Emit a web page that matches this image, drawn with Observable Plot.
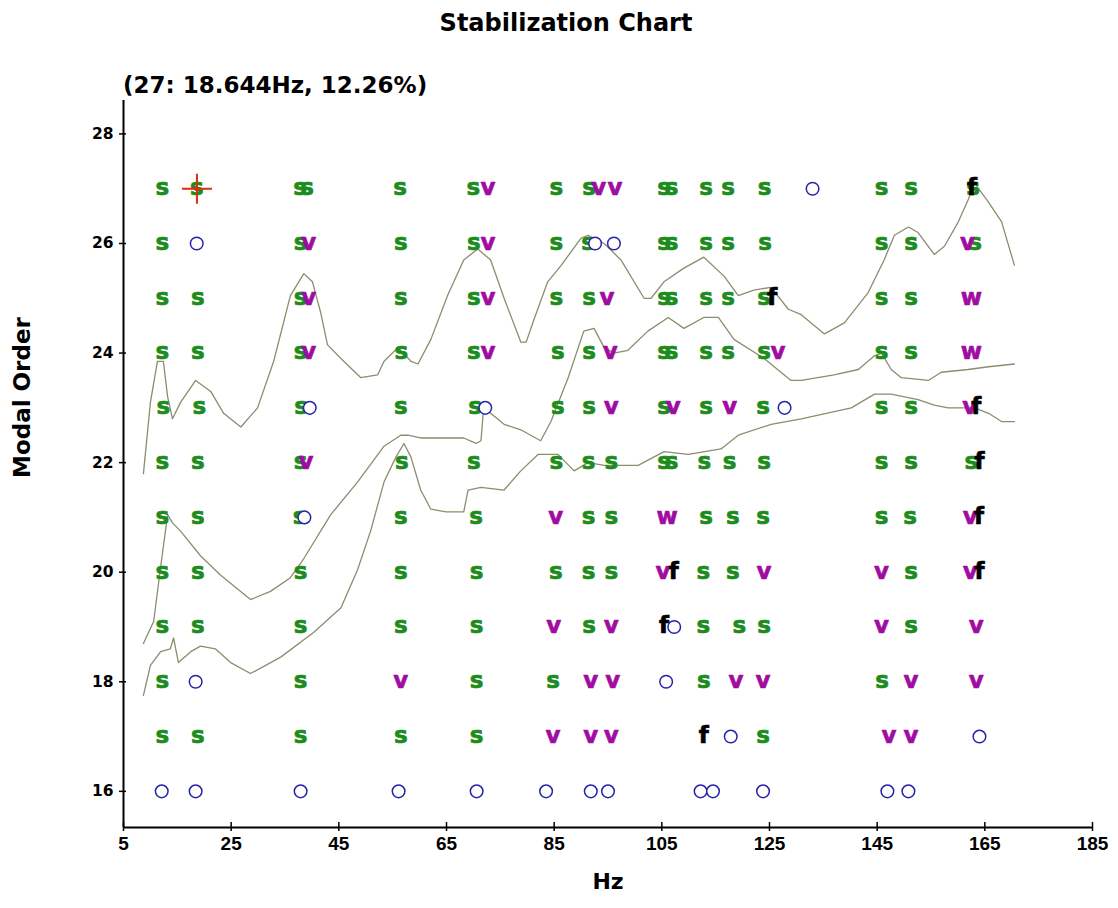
<!DOCTYPE html>
<html>
<head>
<meta charset="utf-8">
<script src="https://cdn.jsdelivr.net/npm/d3@7"></script>
<script src="https://cdn.jsdelivr.net/npm/@observablehq/plot@0.6"></script>
<style>
  html, body { margin: 0; padding: 0; background: #fff; }
  body { width: 1118px; height: 908px; overflow: hidden; font-family: "DejaVu Sans", sans-serif; }
  #header { position: relative; width: 1118px; height: 100px; }
  #title { position: absolute; left: 14px; width: 1104px; top: 8px; text-align: center;
           font-size: 24px; font-weight: bold; color: #000; line-height: 30px; }
  #subtitle { position: absolute; left: 123px; top: 70px; font-size: 23px; font-weight: bold;
              color: #000; line-height: 30px; white-space: nowrap; }
  #chart svg { display: block; }
</style>
</head>
<body>
<div id="header"><div id="title"></div><div id="subtitle"></div></div>
<div id="chart"></div>
<script>
// ---- data ----
const chartTitle = "Stabilization Chart";
const selected = { order: 27, hz: 18.644, damping: 12.26 };
const xTicks = [5, 25, 45, 65, 85, 105, 125, 145, 165, 185];
const yTicks = [16, 18, 20, 22, 24, 26, 28];

// stable poles "s" : [Hz, model order]
const sPoles = [
  [12.2,27],[18.64,27],[37.8,27],[39.1,27],[56.4,27],[70.0,27],[85.4,27],[91.5,27],[105.4,27],[106.8,27],[113.2,27],[117.3,27],[124.1,27],[145.8,27],[151.3,27],[162.8,27],
  [12.2,26],[37.9,26],[56.5,26],[70.1,26],[85.4,26],[91.3,26],[105.4,26],[106.8,26],[113.2,26],[117.3,26],[124.2,26],[145.8,26],[151.3,26],[163.2,26],
  [12.2,25],[18.8,25],[37.9,25],[56.5,25],[70.1,25],[85.4,25],[91.5,25],[105.4,25],[106.8,25],[113.2,25],[117.3,25],[124.0,25],[145.8,25],[151.3,25],
  [12.2,24],[18.8,24],[37.9,24],[56.6,24],[70.1,24],[85.7,24],[91.5,24],[105.4,24],[106.8,24],[113.2,24],[117.3,24],[124.0,24],[145.8,24],[151.3,24],
  [12.4,23],[19.1,23],[38.0,23],[56.5,23],[70.3,23],[85.7,23],[91.5,23],[105.4,23],[113.2,23],[123.8,23],[145.8,23],[151.3,23],
  [12.2,22],[18.8,22],[37.9,22],[56.7,22],[70.1,22],[85.4,22],[91.4,22],[95.6,22],[105.4,22],[106.8,22],[112.9,22],[117.6,22],[124.0,22],[145.8,22],[151.3,22],[162.5,22],
  [12.2,21],[18.8,21],[37.7,21],[56.5,21],[70.5,21],[91.4,21],[95.6,21],[113.2,21],[118.2,21],[123.8,21],[145.8,21],[151.1,21],
  [12.2,20],[18.8,20],[37.9,20],[56.5,20],[70.6,20],[85.3,20],[91.4,20],[95.6,20],[112.7,20],[118.2,20],[151.3,20],
  [12.2,19],[18.8,19],[37.9,19],[56.5,19],[70.6,19],[91.5,19],[112.7,19],[119.4,19],[124.0,19],[151.3,19],
  [12.2,18],[37.9,18],[70.6,18],[84.8,18],[112.8,18],[145.9,18],
  [12.2,17],[18.8,17],[37.9,17],[56.5,17],[70.6,17],[123.8,17]
];
// poles stable in frequency and damping "v"
const vPoles = [
  [72.7,27],[93.3,27],[96.3,27],
  [39.4,26],[72.7,26],[161.8,26],
  [39.4,25],[72.7,25],[94.8,25],
  [39.4,24],[72.7,24],[95.4,24],[126.6,24],
  [95.6,23],[107.1,23],[117.6,23],[162.2,23],
  [38.9,22],
  [85.3,21],[162.3,21],
  [105.2,20],[124.0,20],[145.8,20],[162.3,20],
  [84.9,19],[95.6,19],[145.8,19],[163.4,19],
  [56.5,18],[91.8,18],[95.9,18],[118.8,18],[123.8,18],[151.3,18],[163.4,18],
  [84.8,17],[91.8,17],[95.6,17],[147.2,17],[151.3,17]
];
// "w" poles
const wPoles = [[162.5,25],[162.5,24],[106.0,21]];
// frequency-stable "f" poles
const fPoles = [[162.6,27],[125.5,25],[163.4,23],[164.0,22],[163.9,21],[107.2,20],[164.0,20],[105.4,19],[112.8,17]];
// new / unstable poles "o"
const oPoles = [
  [133.0,27],
  [18.6,26],[92.6,26],[96.1,26],
  [39.6,23],[72.2,23],[127.8,23],
  [38.6,21],
  [107.3,19],
  [18.4,18],[105.8,18],
  [117.8,17],[164.0,17],
  [12.1,16],[18.4,16],[37.9,16],[56.1,16],[70.6,16],[83.5,16],[91.8,16],[95.0,16],[112.2,16],[114.5,16],[123.8,16],[146.9,16],[150.8,16]
];

// mode indicator function curves (on the model-order scale)
const curveA = [[8.7,21.8],[10.0,23.1],[11.3,23.85],[12.4,23.85],[13.2,23.2],[14.1,22.8],[15.6,23.1],[18.4,23.5],[21.2,23.3],[23.6,22.9],[26.8,22.65],[29.9,23.0],[32.9,23.85],[36.0,25.05],[38.5,25.45],[40.1,25.3],[41.6,24.75],[42.9,24.15],[45.9,23.85],[49.1,23.55],[52.2,23.6],[53.4,23.85],[56.0,24.1],[58.4,23.85],[59.7,23.8],[62.1,24.25],[65.2,25.05],[68.2,25.7],[70.8,25.9],[73.2,25.7],[75.7,25.0],[78.8,24.2],[79.8,24.2],[81.2,24.6],[83.8,25.3],[86.3,25.6],[90.0,26.1],[91.3,26.15],[94.3,26.0],[97.4,25.7],[101.7,25.0],[103.0,25.0],[105.4,25.3],[109.1,25.55],[112.8,25.75],[116.6,25.4],[119.2,25.05],[122.1,25.15],[125.3,25.2],[128.5,24.8],[130.9,24.7],[135.2,24.35],[138.9,24.55],[143.3,25.1],[146.3,25.7],[148.2,26.15],[150.8,26.3],[152.6,26.2],[155.6,25.8],[157.5,25.95],[160.1,26.4],[161.9,26.8],[163.1,27.1],[165.7,26.75],[168.1,26.4],[170.5,25.6]];
const curveB = [[8.7,18.7],[10.6,19.1],[11.9,20.1],[13.2,21.05],[14.1,20.9],[15.6,20.75],[19.3,20.3],[23.0,19.95],[28.6,19.5],[32.3,19.65],[36.0,19.9],[38.5,20.25],[43.5,21.05],[48.5,21.65],[53.4,22.3],[56.5,22.5],[57.8,22.5],[60.2,22.45],[64.0,22.45],[68.2,22.45],[70.5,22.35],[71.4,22.4],[71.9,23.0],[73.2,22.9],[75.7,22.7],[78.8,22.6],[82.5,22.4],[84.4,22.75],[87.6,23.55],[90.5,24.4],[92.4,24.45],[94.3,24.1],[96.1,24.0],[98.7,24.05],[102.4,24.4],[106.2,24.65],[109.1,24.45],[112.8,24.65],[115.5,24.65],[118.4,24.25],[124.0,23.9],[129.0,23.5],[130.9,23.5],[137.0,23.6],[141.5,23.7],[144.5,23.95],[145.8,24.0],[147.6,23.7],[149.5,23.55],[154.5,23.5],[156.9,23.65],[161.9,23.7],[165.7,23.75],[170.5,23.8]];
const curveC = [[8.7,17.75],[10.0,18.3],[11.9,18.55],[13.7,18.6],[14.3,18.8],[15.2,18.35],[17.5,18.55],[19.3,18.65],[22.1,18.6],[24.9,18.35],[28.6,18.15],[34.2,18.45],[40.3,18.9],[45.4,19.35],[48.5,20.05],[50.9,20.75],[53.4,21.65],[55.6,22.1],[57.1,22.35],[58.4,22.1],[60.2,21.5],[62.1,21.15],[64.9,21.1],[68.2,21.1],[69.0,21.5],[71.4,21.55],[75.7,21.5],[78.8,21.85],[82.0,22.15],[85.7,22.15],[88.7,21.85],[91.3,22.0],[94.3,21.95],[100.6,21.95],[105.4,22.2],[109.9,22.15],[116.0,22.25],[119.2,22.5],[125.3,22.7],[130.9,22.8],[140.2,23.0],[144.5,23.25],[147.6,23.25],[152.6,23.15],[155.6,23.05],[158.2,23.0],[160.6,23.0],[163.1,23.0],[165.7,22.9],[168.1,22.75],[170.5,22.75]];

// ---- drawing ----
document.getElementById("title").textContent = chartTitle;
document.getElementById("subtitle").textContent = `(${selected.order}: ${selected.hz}Hz, ${selected.damping}%)`;

const X = d => d[0], Y = d => d[1];
const yMin = 15.34, yMax = 28.61;
const crossSymbol = {
  draw(ctx, size) {
    const r = Math.sqrt(size / Math.PI);
    ctx.moveTo(-r, 0); ctx.lineTo(r, 0);
    ctx.moveTo(0, -r); ctx.lineTo(0, r);
  }
};
const letter = (data, ch, color) => Plot.text(data, {
  x: X, y: Y, text: () => ch, fill: color, fontSize: 23, fontWeight: "bold",
  fontFamily: "DejaVu Sans", dy: -1, stroke: color, strokeWidth: 0.7
});
const curveStyle = { x: X, y: Y, stroke: "#8c8c6e", strokeWidth: 1.3 };

const chart = Plot.plot({
  width: 1118, height: 808,
  marginTop: 0, marginLeft: 123, marginRight: 26, marginBottom: 81,
  x: { domain: [5, 185] },
  y: { domain: [yMin, yMax] },
  style: { background: "white", fontFamily: "DejaVu Sans", color: "#000", overflow: "visible" },
  marks: [
    Plot.line(curveA, curveStyle),
    Plot.line(curveB, curveStyle),
    Plot.line(curveC, curveStyle),
    letter(sPoles, "s", "#1c8c1c"),
    letter(vPoles, "v", "#a00ca0"),
    letter(wPoles, "w", "#a00ca0"),
    letter(fPoles, "f", "#000000"),
    Plot.dot(oPoles, { x: X, y: Y, r: 6.3, stroke: "#2424aa", strokeWidth: 1.5, fill: "white" }),
    Plot.dot([[selected.hz, selected.order]], { x: X, y: Y, r: 2.5, fill: "#b83000" }),
    Plot.dot([[selected.hz, selected.order]], { x: X, y: Y, r: 15, symbol: crossSymbol, stroke: "#d8300c", strokeWidth: 2, fill: "none" }),
    Plot.ruleX([5], { stroke: "#000", strokeWidth: 2 }),
    Plot.ruleY([yMin], { stroke: "#000", strokeWidth: 2 }),
    Plot.axisX({ ticks: xTicks, tickSize: 4, tickPadding: 5, tickFormat: d => String(d), fontSize: 19,
                 fontFamily: "Liberation Sans", fontWeight: "bold", label: null, stroke: "#000", strokeWidth: 1.5 }),
    Plot.axisX({ ticks: xTicks, tickSize: -5, tickFormat: () => "", label: null, stroke: "#000", strokeWidth: 1.5 }),
    Plot.axisY({ ticks: yTicks, tickSize: 4, tickPadding: 6, tickFormat: d => String(d), fontSize: 15.5,
                 fontFamily: "DejaVu Sans", fontWeight: "bold", label: null, stroke: "#000", strokeWidth: 1.5 }),
    Plot.axisY({ ticks: yTicks, tickSize: -3, tickFormat: () => "", label: null, stroke: "#000", strokeWidth: 1.5 }),
    Plot.text(["Modal Order"], { frameAnchor: "left", rotate: -90, dx: -101, dy: 14, fontSize: 23,
                                 fontWeight: "bold", fontFamily: "DejaVu Sans", fill: "#000" }),
    Plot.text(["Hz"], { frameAnchor: "bottom", dy: 61, fontSize: 22, fontWeight: "bold",
                        fontFamily: "DejaVu Sans", fill: "#000" })
  ]
});
document.getElementById("chart").appendChild(chart);
</script>
</body>
</html>
